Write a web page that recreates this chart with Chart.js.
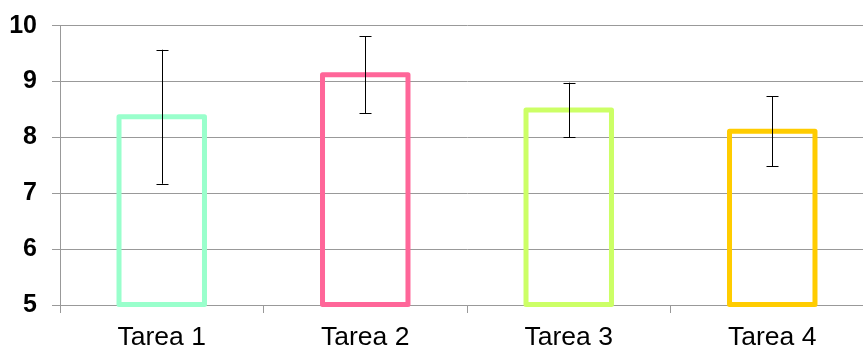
<!DOCTYPE html>
<html>
<head>
<meta charset="utf-8">
<script src="https://cdn.jsdelivr.net/npm/chart.js@4/dist/chart.umd.min.js"></script>
<style>
html,body{margin:0;padding:0;overflow:hidden;background:#fff;}
#wrap{position:relative;width:874px;height:347px;}
</style>
</head>
<body>
<div id="wrap"><canvas id="c"></canvas></div>
<script>
const categories = ["Tarea 1", "Tarea 2", "Tarea 3", "Tarea 4"];
const means = [8.37, 9.12, 8.49, 8.11];
const errors = [1.20, 0.69, 0.49, 0.625];
const barColors = ["#99FFCC", "#FF6699", "#CCFF66", "#FFCC00"];
const yTicks = [5, 6, 7, 8, 9, 10];

const outlineBars = {
  id: 'outlineBars',
  afterDatasetsDraw(chart) {
    const ctx = chart.ctx;
    const meta = chart.getDatasetMeta(0);
    const ys = chart.scales.y;
    ctx.save();
    meta.data.forEach((el, i) => {
      const p = el.getProps(['x', 'y', 'base', 'width'], true);
      ctx.lineWidth = 5;
      ctx.lineJoin = 'round';
      ctx.strokeStyle = barColors[i];
      ctx.strokeRect(p.x - p.width / 2, p.y, p.width, p.base - p.y);
    });
    meta.data.forEach((el, i) => {
      const p = el.getProps(['x'], true);
      const x = Math.round(p.x) + 0.5;
      const top = ys.getPixelForValue(means[i] + errors[i]);
      const bot = ys.getPixelForValue(means[i] - errors[i]);
      ctx.lineWidth = 1;
      ctx.strokeStyle = '#000';
      ctx.beginPath();
      ctx.moveTo(x, top); ctx.lineTo(x, bot);
      ctx.moveTo(x - 6, Math.round(top) + 0.5); ctx.lineTo(x + 6, Math.round(top) + 0.5);
      ctx.moveTo(x - 6, Math.round(bot) + 0.5); ctx.lineTo(x + 6, Math.round(bot) + 0.5);
      ctx.stroke();
    });
    ctx.restore();
  }
};

new Chart(document.getElementById('c'), {
  type: 'bar',
  data: {
    labels: categories,
    datasets: [{
      data: means,
      base: 5,
      backgroundColor: 'rgba(0,0,0,0)',
      borderWidth: 0,
      categoryPercentage: 0.42,
      barPercentage: 1.0
    }]
  },
  options: {
    responsive: true,
    maintainAspectRatio: false,
    animation: false,
    devicePixelRatio: 1,
    layout: { padding: { top: 25.7, left: 0, right: 0, bottom: 0 } },
    plugins: { legend: { display: false }, tooltip: { enabled: false } },
    scales: {
      x: {
        grid: {
          offset: true,
          drawOnChartArea: false,
          drawTicks: true,
          tickLength: 8,
          color: '#999999',
          lineWidth: 1
        },
        border: { color: '#999999', width: 1 },
        ticks: {
          color: '#000',
          padding: 8.5,
          font: { family: '"Liberation Sans", Arial, sans-serif', size: 26.5, lineHeight: 1.2 }
        },
        afterFit(scale) { scale.height = 42; scale.paddingLeft = 0; scale.paddingRight = 0; }
      },
      y: {
        min: 5,
        max: 10,
        afterBuildTicks(scale) { scale.ticks = yTicks.map(v => ({ value: v })); },
        grid: {
          color: '#999999',
          lineWidth: 1,
          tickLength: 8
        },
        border: { color: '#999999', width: 1 },
        ticks: {
          color: '#000',
          padding: 15,
          font: { family: '"Liberation Sans", Arial, sans-serif', size: 25, weight: 'bold' }
        },
        afterFit(scale) { scale.width = 60; scale.paddingTop = 0; scale.paddingBottom = 0; }
      }
    }
  },
  plugins: [outlineBars]
});
</script>
</body>
</html>
